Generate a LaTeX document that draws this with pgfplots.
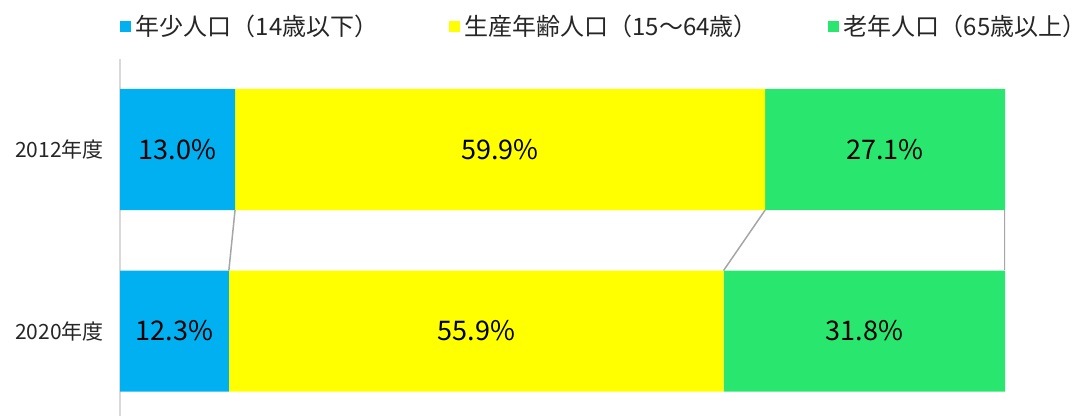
\documentclass[border=0pt]{standalone}
\usepackage{fontspec}
\setmainfont{Noto Sans CJK JP}
\usepackage{pgfplots}
\usepackage{pgfplotstable}
\pgfplotsset{compat=1.18}
\definecolor{cblue}{RGB}{0,176,240}
\definecolor{cyellow}{RGB}{255,255,0}
\definecolor{cgreen}{RGB}{41,230,110}
\definecolor{sline}{RGB}{166,166,166}
\definecolor{axgray}{RGB}{217,217,217}

\pgfplotstableread{
c v
0 12.3
1 13.0
}\young
\pgfplotstableread{
c v
0 55.9
1 59.9
}\working
\pgfplotstableread{
c v
0 31.8
1 27.1
}\old

\begin{document}
\begin{tikzpicture}
\path[use as bounding box] (0,0) rectangle (1091bp,416bp);
\begin{axis}[
  at={(120bp,0bp)}, anchor=south west,
  scale only axis, width=885bp, height=357bp,
  xmin=0, xmax=100, ymin=-0.468, ymax=1.4986,
  xbar stacked, bar width=0.667,
  hide x axis,
  axis y line=left,
  y axis line style={-, draw=axgray, line width=1.5bp},
  ytick={0,1}, yticklabels={2020年度,2012年度},
  major tick length=0pt,
  yticklabel style={font=\fontsize{21bp}{24bp}\selectfont, text=black!85, inner sep=0pt, xshift=-16bp},
  legend columns=3,
  legend style={at={(0,1.0924)}, anchor=west, draw=none, fill=none,
    inner sep=0pt, outer sep=0pt,
    font=\fontsize{24bp}{28bp}\selectfont, text=black!85,
    nodes={inner sep=0pt},
    /tikz/every odd column/.style={column sep=5bp},
    /tikz/every even column/.style={column sep=70bp}},
  legend image code/.code={\fill[#1,draw=none] (0bp,-5.5bp) rectangle (11bp,5.5bp);},
  point meta=explicit,
  nodes near coords={\pgfmathprintnumber[fixed,fixed zerofill,precision=1,assume math mode=true]{\pgfplotspointmeta}\%},
  every node near coord/.append style={anchor=center, text=black,
    font=\fontsize{27bp}{30bp}\selectfont},
]
\addplot[fill=cblue, draw=none] table[x=v, y=c, meta=v] {\young};
\addplot[fill=cyellow, draw=none] table[x=v, y=c, meta=v] {\working};
\addplot[fill=cgreen, draw=none] table[x=v, y=c, meta=v] {\old};
\legend{年少人口（14歳以下）, 生産年齢人口（15～64歳）, 老年人口（65歳以上）}
\end{axis}
\begin{axis}[
  at={(120bp,0bp)}, anchor=south west,
  scale only axis, width=885bp, height=357bp,
  xmin=0, xmax=100, ymin=-0.468, ymax=1.4986,
  hide axis,
]
\addplot[sline, line width=1.5bp] coordinates {(13.0,0.6665) (12.3,0.3335)};
\addplot[sline, line width=1.5bp] coordinates {(72.9,0.6665) (68.2,0.3335)};
\addplot[sline, line width=1.5bp] coordinates {(100,0.6665) (100,0.3335)};
\end{axis}
\end{tikzpicture}
\end{document}
